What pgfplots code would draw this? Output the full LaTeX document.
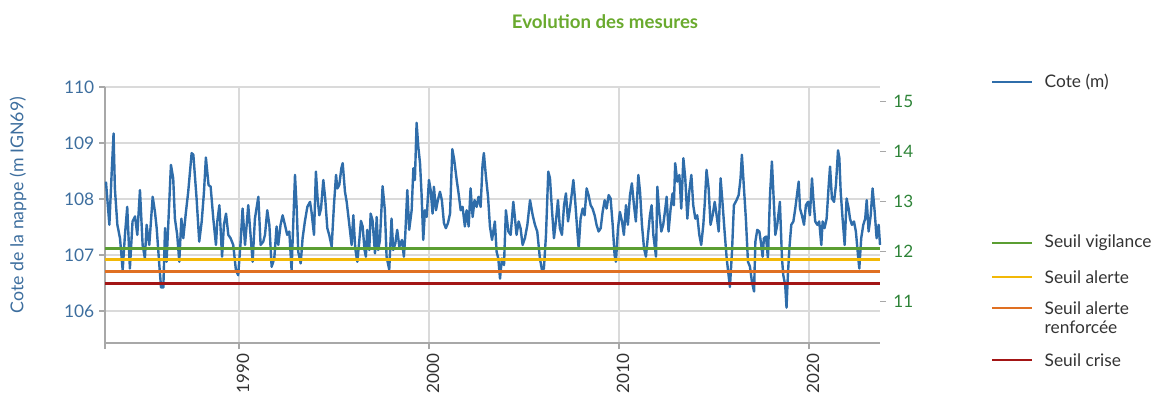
\documentclass[border=0pt]{standalone}
\usepackage{fontspec}
\setmainfont{Lato}
\usepackage{pgfplots}
\usepackage{pgfplotstable}
\pgfplotsset{compat=1.18}
\definecolor{cote}{HTML}{2F6DAA}
\definecolor{vigi}{HTML}{5B9E32}
\definecolor{alerte}{HTML}{F2B807}
\definecolor{renf}{HTML}{E07022}
\definecolor{crise}{HTML}{A31515}
\definecolor{titlegreen}{HTML}{6AAA2E}
\definecolor{rightgreen}{HTML}{2E8438}
\definecolor{leftblue}{HTML}{3D6E9E}
\definecolor{txt}{HTML}{333333}
\definecolor{gridc}{HTML}{DADADA}
\definecolor{axisc}{HTML}{A8A8A8}

\pgfplotstableread{
t h
1983.00 108.31
1983.18 107.54
1983.30 108.46
1983.40 109.17
1983.47 108.19
1983.60 107.54
1983.74 107.30
1983.88 106.73
1984.00 107.36
1984.12 107.86
1984.26 106.76
1984.40 107.60
1984.53 107.69
1984.65 107.36
1984.79 108.16
1984.93 107.18
1985.05 106.94
1985.14 107.54
1985.28 107.18
1985.46 108.04
1985.58 107.77
1985.67 107.48
1985.81 106.82
1985.90 106.42
1986.02 106.42
1986.11 107.48
1986.19 106.88
1986.28 107.54
1986.42 108.61
1986.54 108.37
1986.63 107.65
1986.75 107.36
1986.86 106.88
1986.97 107.65
1987.07 107.30
1987.21 107.77
1987.33 108.13
1987.51 108.82
1987.60 108.79
1987.77 108.01
1987.91 107.24
1988.04 107.60
1988.16 108.13
1988.26 108.74
1988.40 108.25
1988.51 108.22
1988.65 107.65
1988.79 107.18
1988.86 107.60
1988.97 107.89
1989.11 106.97
1989.21 107.54
1989.32 107.74
1989.44 107.36
1989.56 107.30
1989.70 107.18
1989.84 106.73
1989.96 106.64
1990.09 107.24
1990.19 107.83
1990.32 107.18
1990.49 107.89
1990.61 107.36
1990.72 106.88
1990.84 107.65
1991.02 108.04
1991.14 107.18
1991.28 107.24
1991.37 107.36
1991.49 107.80
1991.60 107.54
1991.72 106.79
1991.86 106.94
1991.98 107.51
1992.07 107.18
1992.19 107.54
1992.30 107.71
1992.42 107.54
1992.54 107.36
1992.65 107.42
1992.77 106.73
1992.95 108.43
1993.04 107.83
1993.12 107.06
1993.25 106.85
1993.35 107.30
1993.47 107.60
1993.60 107.86
1993.74 107.95
1993.82 107.77
1993.95 107.36
1994.05 108.49
1994.14 108.01
1994.23 107.71
1994.32 107.83
1994.44 108.34
1994.54 108.01
1994.65 107.48
1994.75 107.36
1994.88 107.15
1995.00 107.89
1995.11 108.43
1995.18 108.19
1995.28 108.25
1995.39 108.55
1995.46 108.64
1995.58 108.13
1995.67 107.95
1995.81 107.54
1995.93 107.18
1996.02 107.71
1996.12 107.12
1996.23 106.88
1996.33 107.24
1996.42 107.61
1996.51 107.51
1996.61 107.09
1996.68 106.97
1996.75 107.45
1996.86 107.09
1996.93 107.74
1997.03 107.62
1997.16 107.03
1997.25 107.68
1997.33 107.09
1997.42 107.27
1997.56 108.23
1997.68 107.80
1997.77 106.97
1997.91 106.74
1998.03 107.65
1998.12 107.09
1998.23 107.21
1998.33 107.45
1998.44 107.15
1998.58 107.27
1998.68 106.97
1998.75 107.33
1998.86 108.16
1998.96 107.45
1999.09 107.80
1999.18 108.55
1999.26 108.34
1999.35 109.36
1999.44 108.93
1999.53 108.64
1999.61 108.10
1999.70 107.27
1999.79 107.80
1999.88 107.68
2000.00 108.34
2000.09 108.16
2000.19 107.74
2000.26 108.22
2000.37 107.80
2000.47 107.98
2000.58 108.13
2000.68 107.98
2000.79 107.57
2000.89 107.48
2001.00 107.57
2001.11 107.74
2001.23 108.89
2001.33 108.70
2001.46 108.34
2001.56 108.10
2001.67 107.80
2001.77 107.86
2001.89 107.51
2001.98 107.80
2002.09 107.51
2002.19 108.19
2002.30 107.68
2002.40 107.98
2002.51 107.86
2002.61 108.04
2002.72 107.86
2002.82 108.61
2002.89 108.82
2003.00 108.40
2003.11 108.04
2003.21 107.51
2003.32 107.27
2003.40 107.45
2003.47 107.60
2003.56 107.06
2003.65 106.94
2003.74 106.58
2003.84 106.94
2003.95 106.82
2004.05 107.80
2004.18 107.42
2004.30 107.36
2004.44 107.95
2004.53 107.65
2004.61 107.36
2004.72 107.60
2004.82 107.48
2004.93 107.18
2005.05 107.30
2005.18 107.54
2005.32 107.98
2005.46 107.71
2005.58 107.54
2005.70 107.42
2005.84 106.94
2005.95 106.73
2006.05 106.76
2006.16 107.36
2006.28 108.49
2006.37 108.37
2006.47 107.83
2006.58 107.30
2006.68 107.60
2006.79 107.98
2006.89 107.48
2007.00 107.36
2007.11 107.89
2007.21 108.10
2007.32 107.60
2007.42 107.83
2007.53 108.13
2007.60 108.34
2007.70 107.95
2007.81 107.42
2007.88 107.12
2007.98 107.65
2008.09 107.83
2008.19 107.71
2008.30 108.19
2008.40 108.07
2008.51 107.89
2008.61 107.83
2008.72 107.71
2008.82 107.54
2008.93 107.42
2009.04 107.48
2009.14 107.77
2009.25 107.98
2009.35 107.83
2009.46 108.07
2009.56 108.01
2009.67 107.54
2009.77 107.00
2009.84 106.88
2009.95 107.48
2010.05 107.77
2010.16 107.60
2010.26 107.36
2010.37 107.89
2010.47 107.54
2010.58 108.07
2010.68 108.28
2010.79 107.89
2010.89 107.60
2011.02 108.43
2011.11 108.13
2011.21 107.54
2011.32 107.12
2011.42 106.97
2011.53 107.36
2011.63 107.71
2011.72 107.89
2011.81 107.36
2011.95 106.97
2012.02 108.22
2012.12 107.77
2012.23 107.42
2012.33 107.54
2012.44 107.83
2012.51 108.04
2012.61 107.42
2012.72 107.83
2012.82 108.10
2012.89 107.89
2012.96 108.64
2013.07 108.31
2013.18 108.43
2013.28 107.83
2013.39 108.73
2013.49 108.37
2013.60 107.65
2013.70 108.13
2013.81 108.43
2013.91 107.89
2014.02 107.65
2014.12 107.71
2014.23 107.36
2014.33 107.18
2014.44 107.54
2014.51 107.89
2014.61 108.52
2014.72 108.19
2014.82 107.54
2014.93 107.71
2015.04 107.95
2015.14 107.71
2015.25 107.42
2015.35 108.37
2015.46 107.89
2015.56 107.42
2015.67 106.94
2015.75 106.70
2015.84 106.43
2015.95 107.06
2016.05 107.89
2016.19 107.98
2016.30 108.07
2016.40 108.37
2016.47 108.79
2016.58 108.19
2016.68 107.65
2016.79 106.88
2016.89 106.80
2017.00 106.52
2017.11 106.35
2017.18 107.24
2017.28 107.45
2017.39 107.42
2017.49 107.18
2017.56 106.97
2017.63 107.30
2017.74 107.33
2017.84 106.94
2017.95 108.07
2018.05 108.67
2018.16 107.89
2018.23 107.36
2018.33 107.54
2018.47 107.95
2018.58 106.94
2018.65 106.64
2018.75 106.46
2018.82 106.06
2018.89 106.64
2018.97 107.12
2019.07 107.54
2019.18 107.60
2019.28 107.83
2019.39 108.13
2019.46 108.31
2019.53 107.83
2019.63 107.71
2019.74 107.54
2019.84 107.89
2019.95 107.95
2020.05 107.71
2020.16 108.37
2020.23 108.01
2020.33 107.60
2020.44 107.54
2020.54 107.60
2020.65 107.18
2020.72 107.60
2020.82 107.48
2020.93 107.65
2021.04 108.25
2021.11 108.58
2021.21 108.01
2021.32 107.95
2021.42 108.25
2021.53 108.87
2021.60 108.73
2021.67 108.13
2021.77 107.65
2021.88 107.18
2021.98 108.01
2022.09 107.83
2022.16 107.65
2022.26 107.54
2022.37 107.60
2022.47 107.42
2022.58 107.00
2022.65 106.76
2022.75 107.30
2022.86 107.54
2022.96 107.65
2023.04 107.98
2023.14 107.42
2023.25 107.71
2023.35 108.19
2023.46 107.77
2023.56 107.30
2023.67 107.54
2023.74 107.18
}\cote

\begin{document}
\begin{tikzpicture}
\useasboundingbox (0pt,0pt) rectangle (874.5pt,300pt);
% title
\node[font=\bfseries\fontsize{14}{16}\selectfont, text=titlegreen] at (453.75pt,283.5pt) {Evolution des mesures};
% y label
\node[rotate=90, font=\fontsize{13.3}{15}\selectfont, text=leftblue] at (13.5pt,146.25pt) {Cote de la nappe (m IGN69)};

\begin{axis}[
  at={(78.75pt,42.75pt)}, anchor=south west,
  scale only axis, width=581.25pt, height=192pt,
  xmin=1982.95, xmax=2023.74, ymin=105.43, ymax=110,
  axis x line*=bottom, axis y line*=left,
  axis line style={color=axisc, line width=1.3pt, -},
  xtick={1990,2000,2010,2020}, ytick={106,107,108,109,110},
  extra x ticks={1982.95}, extra x tick labels={},
  extra x tick style={grid=none},
  grid=major, major grid style={color=gridc, line width=1pt},
  tick align=outside, major tick length=4.5pt,
  tick style={color=axisc, line width=1pt},
  /pgf/number format/assume math mode=true,
  /pgf/number format/1000 sep={},
  xticklabel style={rotate=90, anchor=east, font=\fontsize{12.8}{14}\selectfont, text=txt, yshift=-3pt},
  yticklabel style={font=\fontsize{13}{15}\selectfont, text=leftblue},
  clip=false,
]
\addplot[color=cote, line width=1.8pt, line join=round] table[x=t, y=h] {\cote};
\addplot[color=vigi, line width=2.2pt] coordinates {(1982.95,107.11) (2023.74,107.11)};
\addplot[color=alerte, line width=2.2pt] coordinates {(1982.95,106.92) (2023.74,106.92)};
\addplot[color=renf, line width=2.2pt] coordinates {(1982.95,106.71) (2023.74,106.71)};
\addplot[color=crise, line width=2.2pt] coordinates {(1982.95,106.49) (2023.74,106.49)};
\end{axis}

\begin{axis}[
  at={(78.75pt,42.75pt)}, anchor=south west,
  scale only axis, width=581.25pt, height=192pt,
  xmin=1982.95, xmax=2023.74, ymin=10.174, ymax=15.294,
  axis x line=none, axis y line*=right,
  axis line style={draw=none},
  ytick={11,12,13,14,15},
  tick align=outside, major tick length=4.5pt,
  tick style={color=axisc, line width=1pt},
  /pgf/number format/assume math mode=true,
  yticklabel style={font=\fontsize{12.8}{14}\selectfont, text=rightgreen, xshift=2pt},
]
\addplot[draw=none] coordinates {(1982.95,12) (2023.74,12)};
\end{axis}

% legend
\draw[cote, line width=0.8pt] (744pt,238.5pt) -- (774pt,238.5pt);
\node[anchor=west, font=\fontsize{13}{15}\selectfont, text=txt] at (780pt,238.5pt) {Cote (m)};
\draw[vigi, line width=2.2pt] (744pt,117.75pt) -- (774pt,117.75pt);
\node[anchor=west, font=\fontsize{13}{15}\selectfont, text=txt] at (780pt,117.75pt) {Seuil vigilance};
\draw[alerte, line width=2.2pt] (744pt,92.25pt) -- (774pt,92.25pt);
\node[anchor=west, font=\fontsize{13}{15}\selectfont, text=txt] at (780pt,92.25pt) {Seuil alerte};
\draw[renf, line width=2.2pt] (744pt,69pt) -- (774pt,69pt);
\node[anchor=west, font=\fontsize{13}{15}\selectfont, text=txt] at (780pt,69pt) {Seuil alerte};
\node[anchor=west, font=\fontsize{13}{15}\selectfont, text=txt] at (780pt,54.75pt) {renforcée};
\draw[crise, line width=2.2pt] (744pt,30pt) -- (774pt,30pt);
\node[anchor=west, font=\fontsize{13}{15}\selectfont, text=txt] at (780pt,30pt) {Seuil crise};
\end{tikzpicture}
\end{document}
